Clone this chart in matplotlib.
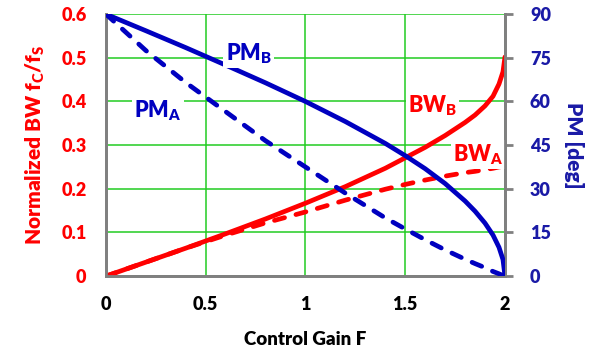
import matplotlib.pyplot as plt

# values
gain = [0, 0.2, 0.4, 0.6, 0.8, 1.0, 1.2, 1.4, 1.5, 1.6, 1.7, 1.8,
        1.85, 1.9, 1.94, 1.97, 1.99, 2.0]
bw_b = [0, 0.032, 0.064, 0.097, 0.131, 0.167, 0.205, 0.247, 0.271, 0.295,
        0.322, 0.352, 0.369, 0.390, 0.412, 0.440, 0.468, 0.502]
bw_a = [0, 0.032, 0.064, 0.094, 0.122, 0.147, 0.174, 0.199, 0.210, 0.220,
        0.229, 0.237, 0.240, 0.244, 0.247, 0.250, 0.251, 0.252]
pm_b = [90, 84.3, 78.5, 72.5, 66.4, 60.0, 53.1, 45.6, 41.4, 36.9,
        31.8, 25.8, 22.3, 18.2, 14.1, 9.9, 5.7, 0]
pm_a = [90, 77.5, 66.5, 56.5, 46.5, 37.5, 28.5, 20.0, 16.2, 12.5,
        9.0, 5.8, 4.3, 2.9, 1.6, 0.8, 0.2, 0]

xticks = [0, 0.5, 1, 1.5, 2]
xlabels = ["0", "0.5", "1", "1.5", "2"]
bw_ticks = [0, 0.1, 0.2, 0.3, 0.4, 0.5, 0.6]
bw_labels = ["0", "0.1", "0.2", "0.3", "0.4", "0.5", "0.6"]
pm_ticks = [0, 15, 30, 45, 60, 75, 90]

RED = "#FF0000"
BLUE = "#0000C0"
TICKBLUE = "#1A1AA6"
GREEN = "#22CC22"
GRAY = "#808080"

plt.rcParams["font.family"] = ["Lato", "DejaVu Sans"]
plt.rcParams["font.weight"] = "heavy"
plt.rcParams["mathtext.fontset"] = "custom"
plt.rcParams["mathtext.rm"] = "Lato:heavy"
plt.rcParams["mathtext.bf"] = "Lato:heavy"
plt.rcParams["mathtext.default"] = "rm"

fig = plt.figure(figsize=(5.92, 3.54), dpi=100)
ax = fig.add_axes([0.179, 0.220, 0.674, 0.740])
ax2 = ax.twinx()

ax.plot(gain, bw_b, color=RED, lw=3.4, solid_capstyle="round", zorder=3)
ax.plot(gain, bw_a, color=RED, lw=3.4, dashes=(2.2, 2.5),
        dash_capstyle="round", zorder=3)
ax2.plot(gain, pm_b, color=BLUE, lw=3.4, solid_capstyle="round", zorder=3)
ax2.plot(gain, pm_a, color=BLUE, lw=3.4, dashes=(2.2, 2.5),
         dash_capstyle="round", zorder=3)

ax.set_xlim(0, 2)
ax.set_ylim(0, 0.6)
ax2.set_ylim(0, 90)
ax.set_xticks(xticks)
ax.set_xticklabels(xlabels)
ax.set_yticks(bw_ticks)
ax.set_yticklabels(bw_labels)
ax2.set_yticks(pm_ticks)

ax.grid(True, color=GREEN, lw=1.1)
ax.set_axisbelow(True)

for a in (ax, ax2):
    a.spines["top"].set_visible(False)
    for s in ("left", "bottom", "right"):
        a.spines[s].set_color(GRAY)
        a.spines[s].set_linewidth(2)

ax.tick_params(axis="x", length=0, pad=14, labelsize=13, labelcolor="black")
ax.tick_params(axis="y", length=0, pad=14, labelsize=13, labelcolor=RED)
ax2.tick_params(axis="y", length=6, width=2, color=GRAY, pad=12,
                labelsize=13, labelcolor=TICKBLUE)
for lab in ax.get_xticklabels() + ax.get_yticklabels() + ax2.get_yticklabels():
    lab.set_fontweight("heavy")

ax.set_xlabel("Control Gain F", fontsize=13.5, fontweight="heavy", labelpad=13)
ax.set_ylabel("Normalized BW f$_C$/f$_S$", color=RED,
              fontsize=15, fontweight="heavy", labelpad=10)
ax2.set_ylabel("PM [deg]", color=TICKBLUE, fontsize=15, fontweight="heavy",
               rotation=270, labelpad=24)

box = dict(facecolor="white", edgecolor="none", pad=1.5)
ax2.text(0.715, 76.5, "PM$_B$", color=BLUE, fontsize=15.5, fontweight="heavy",
         ha="center", va="center", bbox=box, zorder=4)
ax2.text(0.26, 57.0, "PM$_A$", color=BLUE, fontsize=15.5, fontweight="heavy",
         ha="center", va="center", bbox=box, zorder=4)
ax.text(1.635, 0.39, "BW$_B$", color=RED, fontsize=15.5, fontweight="heavy",
        ha="center", va="center", bbox=box, zorder=4)
ax.text(1.865, 0.278, "BW$_A$", color=RED, fontsize=15.5, fontweight="heavy",
        ha="center", va="center", bbox=box, zorder=4)

fig.savefig("out.png", dpi=100)
